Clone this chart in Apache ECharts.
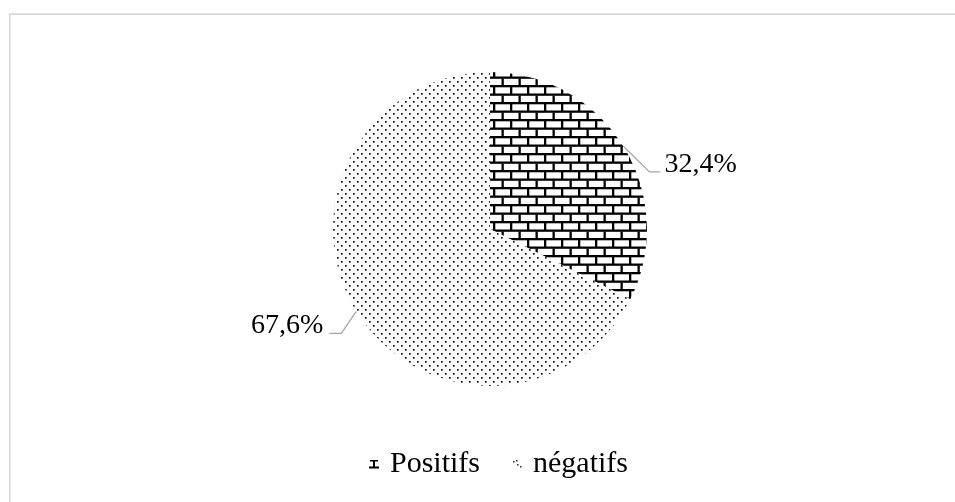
<!DOCTYPE html>
<html><head><meta charset="utf-8">
<script src="https://cdn.jsdelivr.net/npm/echarts@6/dist/echarts.min.js"></script>
<style>html,body{margin:0;padding:0;background:#fff}#c{width:955px;height:502px}</style>
</head><body><div id="c"></div>
<script>
const categories = ['Positifs', 'négatifs'];
const values = [32.4, 67.6];
const valueLabels = ['32,4%', '67,6%'];

function brickPattern(){
  const c = document.createElement('canvas'); c.width = 17; c.height = 17;
  const g = c.getContext('2d');
  g.fillStyle = '#fff'; g.fillRect(0,0,17,17);
  g.fillStyle = '#000';
  g.fillRect(0,0,17,2.3); g.fillRect(0,8.5,17,2.3);
  g.fillRect(0,2,2.3,7); g.fillRect(8.5,10.5,2.3,7);
  return c;
}
function dotPattern(){
  const c = document.createElement('canvas'); c.width = 8; c.height = 8;
  const g = c.getContext('2d');
  g.fillStyle = '#fff'; g.fillRect(0,0,8,8);
  g.fillStyle = '#111';
  g.fillRect(1,1,1.7,1.7); g.fillRect(5,5,1.7,1.7);
  return c;
}
function brickIcon(){
  const c = document.createElement('canvas'); c.width = 10; c.height = 10;
  const g = c.getContext('2d');
  g.fillStyle = '#000';
  g.fillRect(1,1,8,1.5); g.fillRect(4,2,2,6); g.fillRect(0,7.5,10,2);
  return c.toDataURL();
}
function dotIcon(){
  const c = document.createElement('canvas'); c.width = 10; c.height = 10;
  const g = c.getContext('2d');
  g.fillStyle = '#222';
  g.fillRect(1,2,1.5,1.5); g.fillRect(4,1,1.5,1.5); g.fillRect(5,5,1.5,1.5); g.fillRect(8,7,1.5,1.5);
  return c.toDataURL();
}
const patterns = [brickPattern(), dotPattern()];
const icons = ['image://' + brickIcon(), 'image://' + dotIcon()];
const FONT = "'Liberation Serif','Times New Roman',serif";

const chart = echarts.init(document.getElementById('c'), null, {renderer:'canvas'});
chart.setOption({
  animation: false,
  backgroundColor: '#fff',
  graphic: [{type:'rect', silent:true, shape:{x:9.8, y:14.2, width:1000, height:600},
    style:{fill:'none', stroke:'#d9d9d9', lineWidth:1.7}}],
  legend: {
    bottom: 18, left: 364, itemWidth: 10, itemHeight: 10, itemGap: 32,
    textStyle: {fontFamily: FONT, fontSize: 30, color: '#000', padding:[0,0,0,6]},
    data: categories.map((n,i)=>({name:n, icon:icons[i]}))
  },
  series: [{
    type: 'pie',
    center: ['51.3%', '45.6%'],
    radius: 157,
    startAngle: 90,
    clockwise: true,
    data: categories.map((n,i)=>({name:n, value:values[i],
      itemStyle:{color:{image:patterns[i], repeat:'repeat'}},
      label:{formatter: valueLabels[i]}})),
    itemStyle: {borderWidth: 0},
    label: {show:true, position:'outside', fontFamily: FONT, fontSize: 28, color:'#000'},
    labelLine: {show:true, length: 20, length2: 12, lineStyle:{color:'#a6a6a6', width:1.3}},
    labelLayout: function(p){
      const pts = p.labelLinePoints; if(!pts) return {};
      const p0 = pts[0];
      const right = pts[pts.length-1][0] > p0[0];
      let p1, p2;
      if (right) { p1 = [p0[0]+26, p0[1]+25.5]; p2 = [p1[0]+11, p1[1]];
        return {x: p2[0]+4, y: p2[1]-7.5, align:'left', verticalAlign:'middle', labelLinePoints:[p0,p1,p2]}; }
      p1 = [p0[0]-15, p0[1]+22]; p2 = [p1[0]-12, p1[1]];
      return {x: p2[0]-6, y: p2[1]-7.5, align:'right', verticalAlign:'middle', labelLinePoints:[p0,p1,p2]};
    }
  }]
});
</script></body></html>
